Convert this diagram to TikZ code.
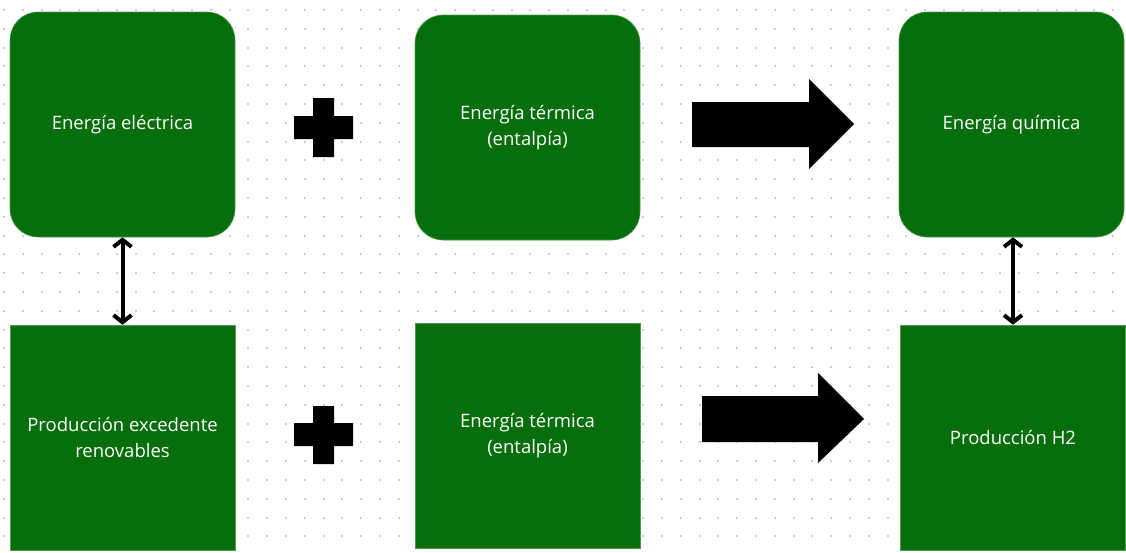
\documentclass[tikz,border=0pt]{standalone}
\usepackage{fontspec}
\setmainfont{Open Sans}
\usetikzlibrary{arrows.meta}
\definecolor{boxgreen}{HTML}{066E0A}
\definecolor{gridblue}{HTML}{C9CDD9}
\tikzset{
  card/.style={fill=boxgreen, draw=boxgreen!70!white, line width=0.6pt,
    minimum width=225pt, minimum height=225pt, inner sep=0pt,
    text=white, align=center, font=\fontsize{18.5}{26.5}\selectfont},
  roundcard/.style={card, rounded corners=28pt},
  link/.style={line width=4pt, {Straight Barb[length=7pt,width=18pt]}-{Straight Barb[length=7pt,width=18pt]}},
  blockshape/.style={fill=black}
}
\begin{document}
\begin{tikzpicture}[x=1pt, y=-1pt]
  \useasboundingbox (0,0) rectangle (1126,552);
  \fill[white] (0,0) rectangle (1126,552);
  % dotted canvas
  \foreach \i in {0,...,59} {
    \foreach \j in {0,...,28} {
      \fill[gridblue] ({3+18.8*\i},{9+18.8*\j}) rectangle +(2,2);
    }
  }
  % top row
  \node[roundcard] (elec) at (122.5,124.5) {Energía eléctrica};
  \node[roundcard] (termA) at (527.5,127.5) {Energía térmica\\(entalpía)};
  \node[roundcard] (quim) at (1011.5,124.5) {Energía química};
  % bottom row
  \node[card] (renov) at (122.5,437.5) {Producción excedente\\renovables};
  \node[card] (termB) at (527.5,435.5) {Energía térmica\\(entalpía)};
  \node[card] (htwo) at (1013,437.5) {Producción H2};
  % plus signs
  \fill[blockshape] (313,98) -- (334,98) -- (334,116) -- (353,116) -- (353,139)
    -- (334,139) -- (334,157) -- (313,157) -- (313,139) -- (294,139) -- (294,116)
    -- (313,116) -- cycle;
  \fill[blockshape] (313,406) -- (334,406) -- (334,423) -- (353,423) -- (353,446)
    -- (334,446) -- (334,464) -- (313,464) -- (313,446) -- (294,446) -- (294,423)
    -- (313,423) -- cycle;
  % block arrows
  \fill[blockshape] (692,102) -- (809,102) -- (809,79) -- (854,124) -- (809,169)
    -- (809,147) -- (692,147) -- cycle;
  \fill[blockshape] (702,396) -- (818,396) -- (818,373) -- (864,419) -- (818,463)
    -- (818,442) -- (702,442) -- cycle;
  % two-way links
  \draw[link] (elec.south) -- (renov.north);
  \draw[link] ([xshift=1.5pt]quim.south) -- (htwo.north);
\end{tikzpicture}
\end{document}
